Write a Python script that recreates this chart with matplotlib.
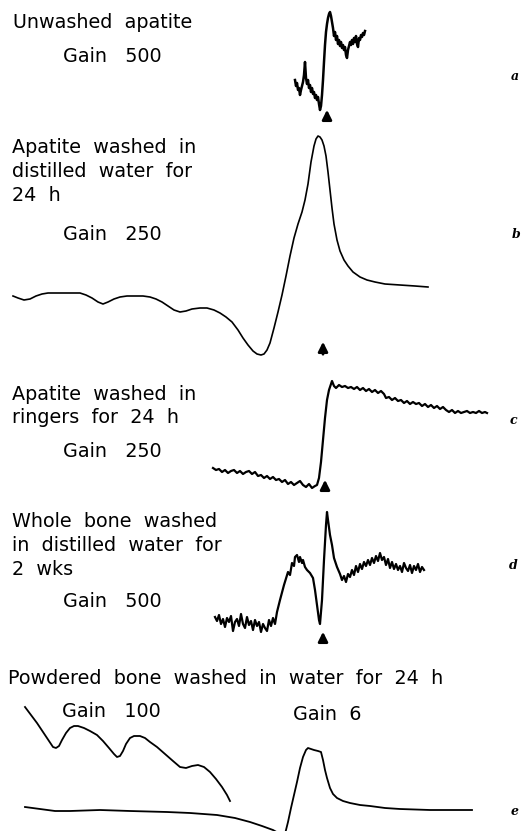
import numpy as np
import matplotlib
matplotlib.use('Agg')
import matplotlib.pyplot as plt

## Traces: field position (x) and pen position (y)
a_x = [295, 296, 297, 298, 299, 300, 301, 302, 303, 304, 305, 306, 307, 308, 309, 310, 311, 312, 313, 314,
       315, 316, 317, 318, 319, 320, 321, 322, 323, 324, 325, 326, 327, 328, 329, 330, 331, 332, 333, 334,
       335, 336, 337, 338, 339, 340, 341, 342, 343, 344, 345, 346, 347, 348, 349, 350, 351, 352, 353, 354,
       355, 356, 357, 358, 359, 360, 361, 362, 363, 364, 365]
a_y = [80, 86, 83, 90, 88, 95, 90, 86, 82, 75, 62, 78, 84, 80, 88, 85, 92, 88, 94, 92,
       98, 95, 100, 97, 104, 110, 106, 95, 80, 62, 45, 32, 24, 18, 14, 12, 16, 22, 28, 36,
       32, 40, 36, 44, 40, 46, 42, 48, 45, 50, 47, 55, 58, 50, 46, 42, 45, 40, 44, 38,
       42, 36, 44, 47, 38, 40, 35, 37, 33, 35, 31]

b_x = [13, 18, 24, 30, 36, 42, 48, 56, 64, 72, 80, 86, 92, 98, 103, 108, 114, 120, 127, 135,
       143, 150, 156, 162, 168, 174, 180, 186, 192, 200, 207, 214, 220, 226, 232, 238, 243, 248, 253, 257,
       261, 264, 267, 270, 274, 278, 282, 286, 290, 294, 298, 302, 305, 308, 311, 314, 316, 318, 320, 322,
       324, 326, 328, 330, 332, 334, 337, 340, 344, 348, 353, 360, 367, 375, 385, 400, 415, 428]
b_y = [296, 298, 300, 299, 296, 294, 293, 293, 293, 293, 293, 295, 298, 302, 304, 302, 299, 297, 296, 296,
       296, 297, 299, 302, 306, 310, 312, 311, 309, 308, 308, 310, 313, 317, 322, 330, 338, 345, 351, 354,
       355, 354, 350, 343, 328, 312, 295, 276, 256, 238, 224, 212, 200, 184, 162, 146, 139, 136, 137, 140,
       146, 156, 172, 190, 208, 224, 240, 251, 260, 266, 272, 277, 280, 282, 284, 285, 286, 287]

c_x = [213, 216, 219, 222, 225, 228, 231, 234, 237, 240, 243, 246, 249, 252, 255, 258, 261, 264, 267, 270,
       273, 276, 279, 282, 285, 288, 291, 294, 297, 300, 303, 306, 309, 312, 315, 317, 319, 321, 323, 325,
       327, 329, 331, 332, 334, 336, 339, 342, 345, 348, 351, 354, 357, 360, 363, 366, 369, 372, 375, 378,
       381, 384, 386, 389, 392, 395, 398, 401, 404, 407, 410, 413, 416, 419, 422, 425, 428, 431, 434, 437,
       440, 443, 446, 449, 452, 455, 458, 461, 464, 467, 470, 473, 476, 479, 482, 485, 487]
c_y = [468, 470, 469, 472, 470, 473, 471, 470, 473, 471, 474, 472, 471, 474, 472, 476, 475, 478, 476, 479,
       477, 480, 479, 482, 480, 484, 482, 485, 483, 481, 485, 487, 484, 488, 486, 485, 478, 462, 440, 418,
       400, 390, 384, 381, 386, 388, 385, 387, 386, 388, 387, 389, 387, 390, 388, 391, 389, 392, 390, 393,
       391, 394, 398, 397, 400, 398, 401, 400, 403, 401, 404, 402, 404, 403, 406, 404, 407, 405, 408, 406,
       409, 407, 410, 412, 410, 413, 411, 413, 412, 411, 413, 412, 413, 411, 413, 412, 413]

d_x = [215, 217, 219, 221, 223, 225, 227, 229, 231, 233, 235, 237, 239, 241, 243, 245, 247, 249, 251, 253,
       255, 257, 259, 261, 263, 265, 267, 269, 271, 273, 275, 277, 280, 284, 288, 290, 292, 294, 295, 297,
       299, 300, 302, 303, 305, 307, 310, 313, 315, 317, 319, 320, 322, 324, 326, 327, 328, 330, 332, 334,
       337, 340, 342, 344, 346, 348, 350, 352, 354, 356, 358, 360, 362, 364, 366, 368, 370, 372, 374, 376,
       378, 380, 382, 384, 386, 388, 390, 392, 394, 396, 398, 400, 402, 404, 406, 408, 410, 412, 414, 416,
       418, 420, 422, 424]
d_y = [617, 621, 615, 624, 619, 627, 618, 622, 616, 631, 622, 619, 626, 614, 624, 628, 617, 625, 621, 630,
       620, 626, 622, 632, 624, 628, 631, 620, 626, 618, 624, 612, 600, 585, 572, 575, 563, 566, 557, 555,
       562, 557, 563, 560, 567, 570, 573, 578, 590, 605, 620, 624, 600, 560, 525, 512, 520, 535, 545, 558,
       567, 574, 580, 576, 582, 574, 577, 570, 575, 566, 572, 564, 569, 562, 566, 560, 565, 558, 563, 556,
       561, 553, 560, 557, 565, 559, 568, 562, 569, 564, 570, 566, 572, 563, 568, 571, 565, 573, 566, 570,
       564, 572, 567, 570]

e_x = [25, 40, 55, 70, 100, 130, 167, 190, 217, 235, 250, 262, 273, 280, 285, 288, 291, 294, 297, 300,
       303, 306, 308, 311, 314, 318, 321, 323, 325, 327, 330, 333, 337, 343, 350, 360, 370, 385, 400, 430, 472]
e_y = [807, 809, 811, 811, 810, 811, 812, 813, 815, 818, 822, 826, 830, 834, 834, 822, 808, 795, 782, 768,
       757, 750, 748, 749, 750, 751, 752, 760, 770, 778, 788, 794, 798, 801, 803, 805, 806, 808, 809, 810, 810]

# Gain 100 trace of the powdered bone
e100_x = [25, 31, 37, 43, 49, 53, 56, 59, 62, 66, 70, 74, 78, 84, 90, 97, 103, 109, 114, 117,
          120, 123, 126, 130, 134, 140, 145, 150, 157, 165, 173, 180, 186, 192, 198, 204, 210, 216, 222, 227, 230]
e100_y = [707, 715, 723, 732, 741, 747, 748, 746, 740, 733, 728, 726, 726, 728, 731, 735, 741, 748, 754, 757,
          756, 751, 744, 738, 736, 736, 738, 742, 747, 754, 761, 767, 768, 766, 765, 767, 772, 779, 787, 795, 801]

# arrow marks (x, tip y, tail y)
arrow_x = [327, 323, 325, 323]
arrow_tip = [107, 339, 477, 629]
arrow_tail = [123, 357, 493, 643]

# text blocks
labels = [("Unwashed  apatite", 13, 28), ("Gain   500", 63, 62),
          ("Apatite  washed  in", 12, 153), ("distilled  water  for", 12, 177), ("24  h", 12, 201),
          ("Gain   250", 63, 240),
          ("Apatite  washed  in", 12, 400), ("ringers  for  24  h", 12, 423), ("Gain   250", 63, 457),
          ("Whole  bone  washed", 12, 527), ("in  distilled  water  for", 12, 551), ("2  wks", 12, 575),
          ("Gain   500", 63, 607),
          ("Powdered  bone  washed  in  water  for  24  h", 8, 684),
          ("Gain   100", 62, 717), ("Gain  6", 293, 720)]
letters = [("a", 515, 80), ("b", 516, 238), ("c", 513, 424), ("d", 513, 569), ("e", 515, 815)]

fig = plt.figure(figsize=(5.21, 8.31), dpi=100)
ax = fig.add_axes([0, 0, 1, 1])
ax.set_xlim(0, 521)
ax.set_ylim(831, 0)
ax.axis('off')

ax.plot(a_x, a_y, color='black', lw=1.8)
ax.plot(b_x, b_y, color='black', lw=1.2)
ax.plot(c_x, c_y, color='black', lw=1.6)
ax.plot(d_x, d_y, color='black', lw=1.6)
ax.plot(e_x, e_y, color='black', lw=1.3)
ax.plot(e100_x, e100_y, color='black', lw=1.3)

for x, tip, tail in zip(arrow_x, arrow_tip, arrow_tail):
    ax.annotate('', xy=(x, tip), xytext=(x, tail),
                arrowprops=dict(arrowstyle='-|>', color='black', lw=2, mutation_scale=14))

for txt, x, y in labels:
    ax.text(x, y, txt, fontsize=13.8, family='DejaVu Sans', va='baseline', ha='left', color='black')

for txt, x, y in letters:
    ax.text(x, y, txt, fontsize=9, family='DejaVu Serif', style='italic', fontweight='bold',
            va='baseline', ha='center', color='black')

plt.savefig('out.png', dpi=100)
plt.close()
